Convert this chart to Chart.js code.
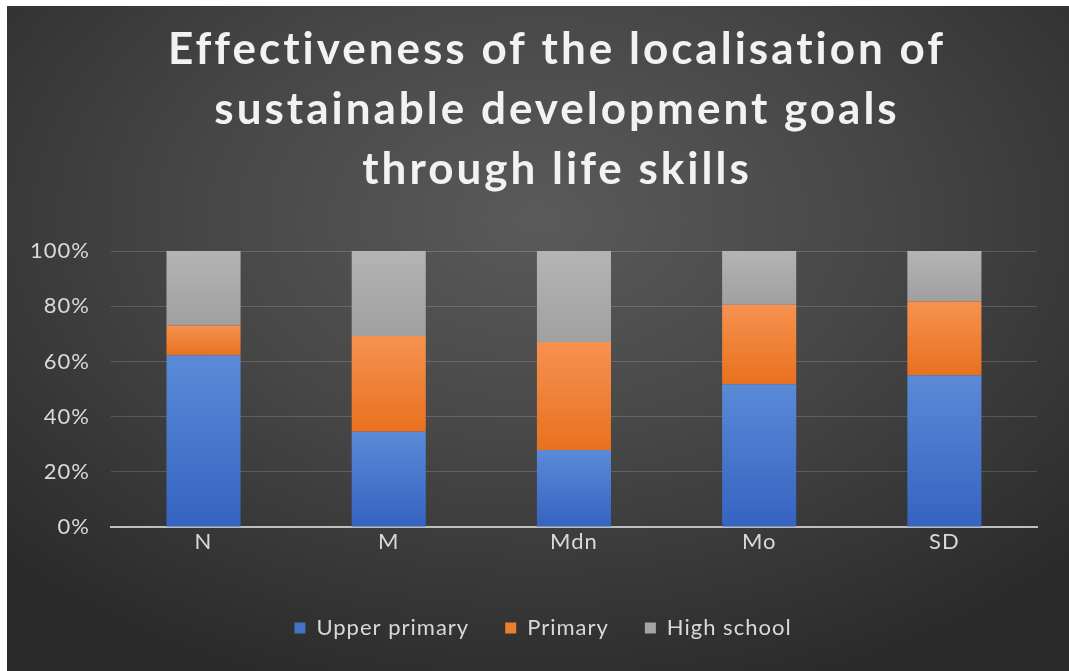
<!DOCTYPE html>
<html>
<head>
<meta charset="utf-8">
<title>Effectiveness of the localisation of sustainable development goals through life skills</title>
<script src="https://cdn.jsdelivr.net/npm/chart.js@4"></script>
<style>
  html, body { margin: 0; padding: 0; background: #fff; }
  #panel {
    position: absolute; left: 7px; top: 6px; width: 1062px; height: 665px;
    background: radial-gradient(ellipse 70% 75% at 50% 32%, #5a5a5a 0%, #474747 45%, #2a2a2a 100%);
  }
</style>
</head>
<body>
<div id="panel"><canvas id="skillsChart" width="1062" height="665"></canvas></div>
<script>
// Categories and stacked shares (percent of each column)
const categories   = ['N', 'M', 'Mdn', 'Mo', 'SD'];
const upperPrimary = [62.2, 34.5, 27.9, 51.7, 55.0];
const primary      = [10.8, 34.7, 39.1, 28.8, 26.7];
const highSchool   = [27.0, 30.8, 33.0, 19.5, 18.3];
const yTicks       = [0, 20, 40, 60, 80, 100];

// Solid colours for the legend, top/bottom shades for the bar gradients
const solid  = ['#4472c4', '#ed7d31', '#a5a5a5'];
const shades = [
    ['#5b8ad8', '#3563c0'],
    ['#f69250', '#e8711f'],
    ['#b4b4b4', '#a0a0a0']
];
const textColor = '#d9d9d9';

// Each stacked segment gets its own vertical gradient
function segmentFill(ctx) {
    const chart = ctx.chart;
    const ds = ctx.datasetIndex;
    if (ctx.type !== 'data' || !chart.chartArea || !chart.scales.y) return solid[ds];
    let start = 0;
    for (let i = 0; i < ds; i++) start += chart.data.datasets[i].data[ctx.dataIndex];
    const end = start + chart.data.datasets[ds].data[ctx.dataIndex];
    const y = chart.scales.y;
    const top = y.getPixelForValue(end), bottom = y.getPixelForValue(start);
    if (!isFinite(top) || !isFinite(bottom) || top === bottom) return solid[ds];
    const g = chart.ctx.createLinearGradient(0, top, 0, bottom);
    g.addColorStop(0, shades[ds][0]);
    g.addColorStop(1, shades[ds][1]);
    return g;
}

// Draw a layout box with its own letter spacing and a small sideways nudge
function nudgeBox(chart, box, spacing, dx) {
    if (!box || box._nudged) return;
    const draw = box.draw.bind(box);
    box.draw = (...args) => {
        const c = chart.ctx;
        c.save();
        c.letterSpacing = spacing;
        c.translate(dx, 0);
        draw(...args);
        c.restore();
    };
    box._nudged = true;
}

// Wider letter spacing for all text, more for the title
const textSpacing = {
    id: 'textSpacing',
    beforeUpdate(chart) {
        chart.ctx.letterSpacing = '1px';
        nudgeBox(chart, chart.titleBlock, '3px', 34);
        nudgeBox(chart, chart.legend, '1px', 20);
    },
    beforeDraw(chart) { chart.ctx.letterSpacing = '1px'; }
};

Chart.defaults.font.family = 'Lato, "Open Sans", sans-serif';

new Chart(document.getElementById('skillsChart'), {
    type: 'bar',
    data: {
        labels: categories,
        datasets: [
            { label: 'Upper primary', data: upperPrimary, backgroundColor: segmentFill },
            { label: 'Primary',       data: primary,      backgroundColor: segmentFill },
            { label: 'High school',   data: highSchool,   backgroundColor: segmentFill }
        ]
    },
    plugins: [textSpacing],
    options: {
        responsive: false,
        animation: false,
        categoryPercentage: 1,
        barPercentage: 0.4,
        layout: { padding: { left: 2, right: 32, bottom: 22 } },
        plugins: {
            tooltip: { enabled: false },
            title: {
                display: true,
                text: ['Effectiveness of the localisation of',
                       'sustainable development goals',
                       'through life skills'],
                color: '#f2f2f2',
                font: { size: 44, weight: 'bold', lineHeight: 1.364 },
                padding: { top: 14, bottom: 51 }
            },
            legend: {
                position: 'bottom',
                labels: {
                    color: textColor,
                    font: { size: 22 },
                    boxWidth: 11,
                    boxHeight: 11,
                    padding: 36,
                    generateLabels: (chart) => chart.data.datasets.map((d, i) => ({
                        text: d.label,
                        fillStyle: solid[i],
                        strokeStyle: solid[i],
                        lineWidth: 0,
                        fontColor: textColor,
                        datasetIndex: i
                    }))
                }
            }
        },
        scales: {
            x: {
                stacked: true,
                grid: { display: false, drawTicks: false },
                border: { color: '#bfbfbf', width: 2 },
                ticks: { color: textColor, font: { size: 22 }, padding: 2 },
                afterFit: (scale) => { scale.height = 54; }
            },
            y: {
                stacked: true,
                min: 0,
                max: 100,
                afterBuildTicks: (axis) => { axis.ticks = yTicks.map(v => ({ value: v })); },
                border: { display: false },
                grid: {
                    drawTicks: false,
                    color: (c) => c.tick && c.tick.value === 0 ? 'transparent' : 'rgba(255,255,255,0.16)'
                },
                ticks: {
                    color: textColor,
                    font: { size: 22 },
                    padding: 21,
                    callback: (v) => v + '%'
                }
            }
        }
    }
});
</script>
</body>
</html>
